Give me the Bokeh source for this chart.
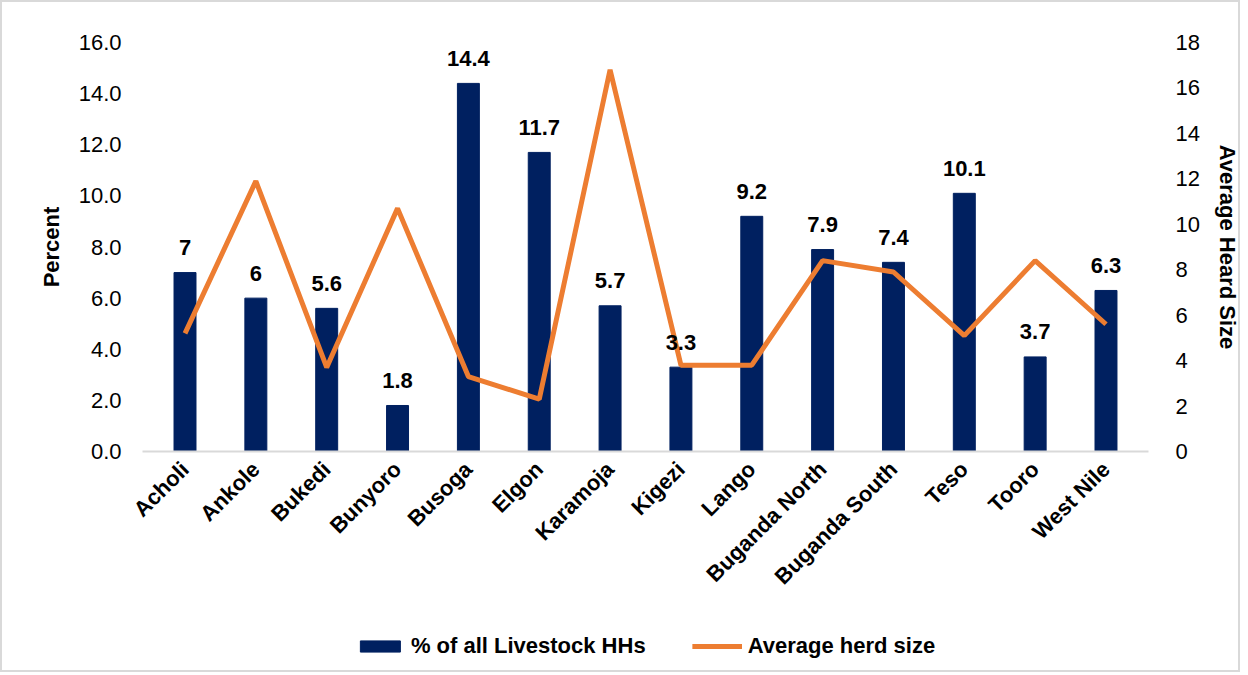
import math
from bokeh.plotting import figure
from bokeh.layouts import column
from bokeh.models import (FactorRange, Range1d, LinearAxis, Legend, LegendItem,
                          NumeralTickFormatter, ColumnDataSource)
from bokeh.core.properties import value
from bokeh.embed import file_html
from bokeh.resources import INLINE

regions = ["Acholi", "Ankole", "Bukedi", "Bunyoro", "Busoga", "Elgon", "Karamoja",
           "Kigezi", "Lango", "Buganda North", "Buganda South", "Teso", "Tooro", "West Nile"]
pct_livestock_hhs = [7.0, 6.0, 5.6, 1.8, 14.4, 11.7, 5.7, 3.3, 9.2, 7.9, 7.4, 10.1, 3.7, 6.3]
pct_labels = ["7", "6", "5.6", "1.8", "14.4", "11.7", "5.7", "3.3", "9.2", "7.9", "7.4", "10.1", "3.7", "6.3"]
avg_herd_size = [5.2, 11.9, 3.7, 10.7, 3.3, 2.3, 16.8, 3.8, 3.8, 8.4, 7.9, 5.1, 8.4, 5.6]
left_ticks = [0, 2, 4, 6, 8, 10, 12, 14, 16]
right_ticks = [0, 2, 4, 6, 8, 10, 12, 14, 16, 18]
legend_labels = ["% of all Livestock HHs", "Average herd size"]

FONT = "Liberation Sans"
BAR = "#002060"
ORANGE = "#ED7D31"
GRAY = "#d9d9d9"
FS = "22px"

src = ColumnDataSource(dict(region=regions, pct=pct_livestock_hhs, lab=pct_labels, herd=avg_herd_size))

# ---------------- main chart ----------------
p = figure(width=1240, height=610,
           x_range=FactorRange(*regions, range_padding=0.1, range_padding_units="absolute"),
           y_range=Range1d(0, 16),
           output_backend="svg", toolbar_location=None,
           min_border_left=140, min_border_right=91, min_border_top=40, min_border_bottom=161)
p.styles = {"border-top": f"2px solid {GRAY}", "border-left": f"2px solid {GRAY}",
            "border-right": f"2px solid {GRAY}", "box-sizing": "border-box"}
p.outline_line_color = None
p.xgrid.grid_line_color = None
p.ygrid.grid_line_color = None
p.background_fill_color = "white"
p.border_fill_color = "white"

p.extra_y_ranges = {"herd": Range1d(0, 18)}

p.vbar(x="region", top="pct", width=0.31, source=src, fill_color=BAR, line_color=BAR)
p.line(x="region", y="herd", source=src, line_color=ORANGE, line_width=5, y_range_name="herd")

p.text(x="region", y="pct", text="lab", source=src, text_align="center", text_baseline="alphabetic",
       y_offset=-25, text_font=value(FONT), text_font_style="bold", text_font_size=FS, text_color="black")

# left axis
ya = p.yaxis[0]
ya.ticker = left_ticks
ya.formatter = NumeralTickFormatter(format="0.0")
ya.axis_line_color = None
ya.major_tick_line_color = None
ya.minor_tick_line_color = None
ya.major_label_text_font = FONT
ya.major_label_text_font_size = FS
ya.major_label_text_color = "black"
ya.major_label_standoff = 15
ya.axis_label = "Percent"
ya.axis_label_text_font = FONT
ya.axis_label_text_font_style = "bold"
ya.axis_label_text_font_size = FS
ya.axis_label_text_color = "black"
ya.axis_label_standoff = 12

# right axis
ra = LinearAxis(y_range_name="herd", ticker=right_ticks)
ra.axis_line_color = None
ra.major_tick_line_color = None
ra.minor_tick_line_color = None
ra.major_label_text_font = FONT
ra.major_label_text_font_size = FS
ra.major_label_text_color = "black"
ra.major_label_standoff = 21
ra.axis_label = "Average Heard Size"
ra.axis_label_text_font = FONT
ra.axis_label_text_font_style = "bold"
ra.axis_label_text_font_size = FS
ra.axis_label_text_color = "black"
ra.axis_label_standoff = 12
p.add_layout(ra, "right")

# x axis
xa = p.xaxis[0]
xa.axis_line_color = GRAY
xa.axis_line_width = 2
xa.major_tick_line_color = None
xa.minor_tick_line_color = None
xa.major_label_orientation = math.pi / 4
xa.major_label_text_font = FONT
xa.major_label_text_font_style = "bold"
xa.major_label_text_font_size = FS
xa.major_label_text_color = "black"
xa.major_label_standoff = 8

# ---------------- legend strip ----------------
q = figure(width=1240, height=62, x_range=Range1d(0, 1), y_range=Range1d(0, 1),
           output_backend="svg", toolbar_location=None, x_axis_type=None, y_axis_type=None,
           min_border_left=0, min_border_right=0, min_border_top=10, min_border_bottom=0)
q.styles = {"border-bottom": f"2px solid {GRAY}", "border-left": f"2px solid {GRAY}",
            "border-right": f"2px solid {GRAY}", "box-sizing": "border-box"}
q.outline_line_color = None
q.grid.visible = False
q.background_fill_color = "white"
q.border_fill_color = "white"
# stand-in renderers that only supply the legend swatches; hidden under a white quad
leg_bar = q.vbar(x=[0.5], top=[0.6], bottom=[0.4], width=0.01, fill_color=BAR, line_color=BAR)
leg_line = q.line(x=[0.45, 0.55], y=[0.5, 0.5], line_color=ORANGE, line_width=5)
q.quad(left=[-1], right=[2], bottom=[-1], top=[2], fill_color="white", line_color="white")

legend = Legend(items=[LegendItem(label=legend_labels[0], renderers=[leg_bar]),
                       LegendItem(label=legend_labels[1], renderers=[leg_line])],
                orientation="horizontal", location="center",
                label_text_font=FONT, label_text_font_style="bold", label_text_font_size=FS,
                label_text_color="black", glyph_width=50, glyph_height=14, spacing=46,
                label_standoff=6, padding=0, margin=0, border_line_color=None,
                background_fill_alpha=0)
q.add_layout(legend, "center")

layout = column(p, q, spacing=0)
open("out.html", "w").write(file_html(layout, INLINE))
